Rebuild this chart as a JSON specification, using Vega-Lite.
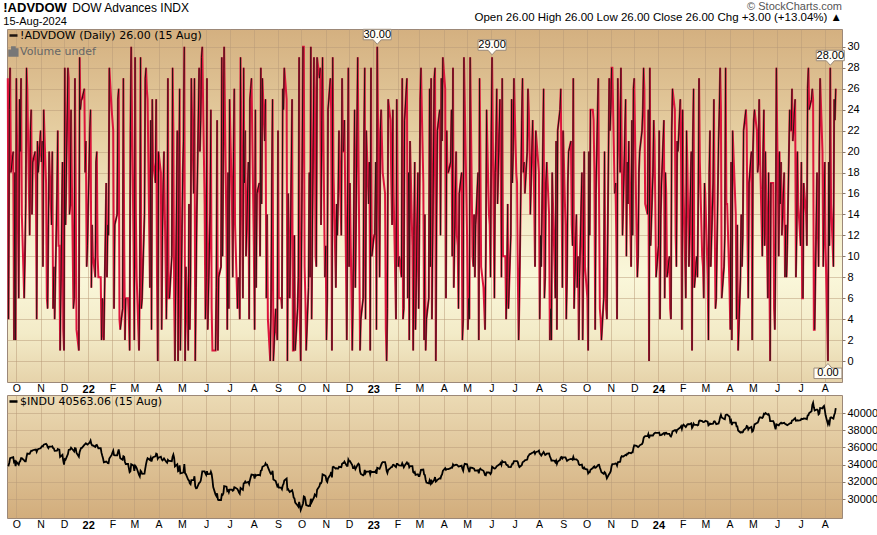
{
"$schema": "https://vega.github.io/schema/vega-lite/v6.json",
"background": "white",
"padding": {"left": 3, "top": 0, "right": 0, "bottom": 0},
"title": {"text": "!ADVDOW", "subtitle": "15-Aug-2024", "anchor": "start", "font": "Liberation Sans", "fontSize": 13, "fontWeight": "bold", "color": "#000", "subtitleFont": "Liberation Sans", "subtitleFontSize": 11, "subtitleColor": "#000", "subtitlePadding": 1, "offset": -27},
"datasets": {
"ann": [{"d":"2023-01-06","v":30,"t":"30.00","pos":"up"},{"d":"2023-06-02","v":29,"t":"29.00","pos":"up"},{"d":"2024-08-08","v":28,"t":"28.00","pos":"up"},{"d":"2024-08-05","v":0,"t":"0.00","pos":"down"}],
"daily": [
{"d":"2021-09-20","v":27,"p":33970},{"d":"2021-09-21","v":4,"p":33920},{"d":"2021-09-22","v":24,"p":34260},{"d":"2021-09-23","v":28,"p":34760},{"d":"2021-09-24","v":18,"p":34800},
{"d":"2021-09-27","v":20,"p":34870},{"d":"2021-09-28","v":2,"p":34300},{"d":"2021-09-29","v":18,"p":34390},{"d":"2021-09-30","v":2,"p":33840},{"d":"2021-10-01","v":27,"p":34330},
{"d":"2021-10-04","v":6,"p":34000},{"d":"2021-10-05","v":25,"p":34310},{"d":"2021-10-06","v":20,"p":34420},{"d":"2021-10-07","v":27,"p":34750},{"d":"2021-10-08","v":14,"p":34750},
{"d":"2021-10-11","v":6,"p":34500},{"d":"2021-10-12","v":10,"p":34380},{"d":"2021-10-13","v":15,"p":34380},{"d":"2021-10-14","v":28,"p":34910},{"d":"2021-10-15","v":26,"p":35290},
{"d":"2021-10-18","v":12,"p":35260},{"d":"2021-10-19","v":22,"p":35460},{"d":"2021-10-20","v":24,"p":35610},{"d":"2021-10-21","v":14,"p":35600},{"d":"2021-10-22","v":19,"p":35680},
{"d":"2021-10-25","v":20,"p":35740},{"d":"2021-10-26","v":17,"p":35760},{"d":"2021-10-27","v":4,"p":35490},{"d":"2021-10-28","v":21,"p":35730},{"d":"2021-10-29","v":18,"p":35820},
{"d":"2021-11-01","v":22,"p":35910},{"d":"2021-11-02","v":19,"p":36050},{"d":"2021-11-03","v":21,"p":36160},{"d":"2021-11-04","v":9,"p":36120},{"d":"2021-11-05","v":24,"p":36330},
{"d":"2021-11-08","v":17,"p":36430},{"d":"2021-11-09","v":6,"p":36320},{"d":"2021-11-10","v":5,"p":36080},{"d":"2021-11-11","v":13,"p":35920},{"d":"2021-11-12","v":20,"p":36100},
{"d":"2021-11-15","v":13,"p":36090},{"d":"2021-11-16","v":20,"p":36140},{"d":"2021-11-17","v":5,"p":35930},{"d":"2021-11-18","v":9,"p":35870},{"d":"2021-11-19","v":4,"p":35600},
{"d":"2021-11-22","v":16,"p":35620},{"d":"2021-11-23","v":22,"p":35810},{"d":"2021-11-24","v":11,"p":35750},{"d":"2021-11-25","v":11,"p":35750},{"d":"2021-11-26","v":1,"p":34900},
{"d":"2021-11-29","v":19,"p":35140},{"d":"2021-11-30","v":3,"p":34480},{"d":"2021-12-01","v":1,"p":34020},{"d":"2021-12-02","v":28,"p":34640},{"d":"2021-12-03","v":13,"p":34580},
{"d":"2021-12-06","v":28,"p":35230},{"d":"2021-12-07","v":27,"p":35720},{"d":"2021-12-08","v":14,"p":35750},{"d":"2021-12-09","v":15,"p":35750},{"d":"2021-12-10","v":24,"p":35970},
{"d":"2021-12-13","v":5,"p":35650},{"d":"2021-12-14","v":6,"p":35540},{"d":"2021-12-15","v":27,"p":35930},{"d":"2021-12-16","v":16,"p":35900},{"d":"2021-12-17","v":3,"p":35370},
{"d":"2021-12-20","v":1,"p":34930},{"d":"2021-12-21","v":29,"p":35490},{"d":"2021-12-22","v":24,"p":35750},{"d":"2021-12-23","v":25,"p":35950},{"d":"2021-12-24","v":25,"p":35950},
{"d":"2021-12-27","v":26,"p":36300},{"d":"2021-12-28","v":18,"p":36400},{"d":"2021-12-29","v":21,"p":36490},{"d":"2021-12-30","v":9,"p":36400},{"d":"2021-12-31","v":11,"p":36340},
{"d":"2022-01-03","v":22,"p":36590},{"d":"2022-01-04","v":24,"p":36800},{"d":"2022-01-05","v":7,"p":36410},{"d":"2022-01-06","v":13,"p":36240},{"d":"2022-01-07","v":10,"p":36230},
{"d":"2022-01-10","v":8,"p":36070},{"d":"2022-01-11","v":19,"p":36250},{"d":"2022-01-12","v":20,"p":36290},{"d":"2022-01-13","v":10,"p":36110},{"d":"2022-01-14","v":8,"p":35910},
{"d":"2022-01-17","v":8,"p":35910},{"d":"2022-01-18","v":2,"p":35370},{"d":"2022-01-19","v":6,"p":35030},{"d":"2022-01-20","v":3,"p":34720},{"d":"2022-01-21","v":2,"p":34270},
{"d":"2022-01-24","v":17,"p":34360},{"d":"2022-01-25","v":8,"p":34300},{"d":"2022-01-26","v":13,"p":34170},{"d":"2022-01-27","v":12,"p":34160},{"d":"2022-01-28","v":28,"p":34720},
{"d":"2022-01-31","v":24,"p":35130},{"d":"2022-02-01","v":23,"p":35410},{"d":"2022-02-02","v":22,"p":35630},{"d":"2022-02-03","v":5,"p":35110},{"d":"2022-02-04","v":13,"p":35090},
{"d":"2022-02-07","v":14,"p":35090},{"d":"2022-02-08","v":25,"p":35460},{"d":"2022-02-09","v":26,"p":35770},{"d":"2022-02-10","v":4,"p":35240},{"d":"2022-02-11","v":3,"p":34740},
{"d":"2022-02-14","v":5,"p":34570},{"d":"2022-02-15","v":27,"p":34990},{"d":"2022-02-16","v":12,"p":34930},{"d":"2022-02-17","v":2,"p":34310},{"d":"2022-02-18","v":6,"p":34080},
{"d":"2022-02-21","v":6,"p":34080},{"d":"2022-02-22","v":4,"p":33600},{"d":"2022-02-23","v":1,"p":33130},{"d":"2022-02-24","v":22,"p":33220},{"d":"2022-02-25","v":30,"p":34060},
{"d":"2022-02-28","v":11,"p":33890},{"d":"2022-03-01","v":2,"p":33290},{"d":"2022-03-02","v":29,"p":33890},{"d":"2022-03-03","v":14,"p":33790},{"d":"2022-03-04","v":8,"p":33610},
{"d":"2022-03-07","v":1,"p":32820},{"d":"2022-03-08","v":7,"p":32630},{"d":"2022-03-09","v":29,"p":33290},{"d":"2022-03-10","v":5,"p":33170},{"d":"2022-03-11","v":6,"p":32940},
{"d":"2022-03-14","v":14,"p":32950},{"d":"2022-03-15","v":27,"p":33540},{"d":"2022-03-16","v":28,"p":34060},{"d":"2022-03-17","v":26,"p":34480},{"d":"2022-03-18","v":25,"p":34750},
{"d":"2022-03-21","v":7,"p":34550},{"d":"2022-03-22","v":23,"p":34810},{"d":"2022-03-23","v":3,"p":34360},{"d":"2022-03-24","v":25,"p":34710},{"d":"2022-03-25","v":19,"p":34860},
{"d":"2022-03-28","v":17,"p":34960},{"d":"2022-03-29","v":25,"p":35290},{"d":"2022-03-30","v":8,"p":35230},{"d":"2022-03-31","v":0,"p":34680},{"d":"2022-04-01","v":20,"p":34820},
{"d":"2022-04-04","v":18,"p":34920},{"d":"2022-04-05","v":3,"p":34640},{"d":"2022-04-06","v":12,"p":34500},{"d":"2022-04-07","v":17,"p":34580},{"d":"2022-04-08","v":20,"p":34720},
{"d":"2022-04-11","v":4,"p":34310},{"d":"2022-04-12","v":9,"p":34220},{"d":"2022-04-13","v":27,"p":34560},{"d":"2022-04-14","v":6,"p":34450},{"d":"2022-04-15","v":6,"p":34450},
{"d":"2022-04-18","v":10,"p":34410},{"d":"2022-04-19","v":28,"p":34910},{"d":"2022-04-20","v":22,"p":35160},{"d":"2022-04-21","v":6,"p":34790},{"d":"2022-04-22","v":0,"p":33810},
{"d":"2022-04-25","v":22,"p":34050},{"d":"2022-04-26","v":0,"p":33240},{"d":"2022-04-27","v":15,"p":33300},{"d":"2022-04-28","v":26,"p":33920},{"d":"2022-04-29","v":1,"p":32980},
{"d":"2022-05-02","v":18,"p":33060},{"d":"2022-05-03","v":21,"p":33130},{"d":"2022-05-04","v":30,"p":34060},{"d":"2022-05-05","v":0,"p":32990},{"d":"2022-05-06","v":9,"p":32900},
{"d":"2022-05-09","v":1,"p":32250},{"d":"2022-05-10","v":15,"p":32160},{"d":"2022-05-11","v":3,"p":31830},{"d":"2022-05-12","v":8,"p":31730},{"d":"2022-05-13","v":27,"p":32200},
{"d":"2022-05-16","v":16,"p":32220},{"d":"2022-05-17","v":27,"p":32650},{"d":"2022-05-18","v":0,"p":31490},{"d":"2022-05-19","v":7,"p":31250},{"d":"2022-05-20","v":14,"p":31260},
{"d":"2022-05-23","v":28,"p":31880},{"d":"2022-05-24","v":20,"p":31930},{"d":"2022-05-25","v":23,"p":32120},{"d":"2022-05-26","v":29,"p":32640},{"d":"2022-05-27","v":30,"p":33210},
{"d":"2022-05-30","v":15,"p":33210},{"d":"2022-05-31","v":4,"p":32990},{"d":"2022-06-01","v":8,"p":32810},{"d":"2022-06-02","v":27,"p":33250},{"d":"2022-06-03","v":3,"p":32900},
{"d":"2022-06-06","v":14,"p":32920},{"d":"2022-06-07","v":24,"p":33180},{"d":"2022-06-08","v":5,"p":32910},{"d":"2022-06-09","v":1,"p":32270},{"d":"2022-06-10","v":1,"p":31390},
{"d":"2022-06-13","v":1,"p":30520},{"d":"2022-06-14","v":7,"p":30360},{"d":"2022-06-15","v":23,"p":30670},{"d":"2022-06-16","v":1,"p":29930},{"d":"2022-06-17","v":8,"p":29890},
{"d":"2022-06-20","v":9,"p":29890},{"d":"2022-06-21","v":29,"p":30530},{"d":"2022-06-22","v":10,"p":30480},{"d":"2022-06-23","v":21,"p":30680},{"d":"2022-06-24","v":30,"p":31500},
{"d":"2022-06-27","v":12,"p":31440},{"d":"2022-06-28","v":3,"p":30950},{"d":"2022-06-29","v":18,"p":31030},{"d":"2022-06-30","v":5,"p":30780},{"d":"2022-07-01","v":25,"p":31100},
{"d":"2022-07-04","v":15,"p":31100},{"d":"2022-07-05","v":8,"p":30970},{"d":"2022-07-06","v":20,"p":31040},{"d":"2022-07-07","v":26,"p":31380},{"d":"2022-07-08","v":13,"p":31340},
{"d":"2022-07-11","v":5,"p":31170},{"d":"2022-07-12","v":8,"p":30980},{"d":"2022-07-13","v":7,"p":30770},{"d":"2022-07-14","v":4,"p":30630},{"d":"2022-07-15","v":29,"p":31290},
{"d":"2022-07-18","v":6,"p":31070},{"d":"2022-07-19","v":28,"p":31830},{"d":"2022-07-20","v":17,"p":31870},{"d":"2022-07-21","v":22,"p":32040},{"d":"2022-07-22","v":10,"p":31900},
{"d":"2022-07-25","v":19,"p":31990},{"d":"2022-07-26","v":4,"p":31760},{"d":"2022-07-27","v":25,"p":32200},{"d":"2022-07-28","v":26,"p":32530},{"d":"2022-07-29","v":27,"p":32850},
{"d":"2022-08-01","v":11,"p":32800},{"d":"2022-08-02","v":3,"p":32400},{"d":"2022-08-03","v":24,"p":32810},{"d":"2022-08-04","v":7,"p":32730},{"d":"2022-08-05","v":16,"p":32800},
{"d":"2022-08-08","v":17,"p":32830},{"d":"2022-08-09","v":10,"p":32770},{"d":"2022-08-10","v":28,"p":33310},{"d":"2022-08-11","v":15,"p":33340},{"d":"2022-08-12","v":27,"p":33760},
{"d":"2022-08-15","v":21,"p":33910},{"d":"2022-08-16","v":25,"p":34150},{"d":"2022-08-17","v":6,"p":33980},{"d":"2022-08-18","v":14,"p":33990},{"d":"2022-08-19","v":4,"p":33710},
{"d":"2022-08-22","v":0,"p":33060},{"d":"2022-08-23","v":5,"p":32910},{"d":"2022-08-24","v":17,"p":32970},{"d":"2022-08-25","v":25,"p":33290},{"d":"2022-08-26","v":0,"p":32280},
{"d":"2022-08-29","v":5,"p":32100},{"d":"2022-08-30","v":3,"p":31790},{"d":"2022-08-31","v":2,"p":31510},{"d":"2022-09-01","v":22,"p":31660},{"d":"2022-09-02","v":6,"p":31320},
{"d":"2022-09-05","v":6,"p":31320},{"d":"2022-09-06","v":5,"p":31150},{"d":"2022-09-07","v":26,"p":31580},{"d":"2022-09-08","v":24,"p":31770},{"d":"2022-09-09","v":28,"p":32150},
{"d":"2022-09-12","v":25,"p":32380},{"d":"2022-09-13","v":0,"p":31100},{"d":"2022-09-14","v":16,"p":31140},{"d":"2022-09-15","v":8,"p":30960},{"d":"2022-09-16","v":6,"p":30820},
{"d":"2022-09-19","v":25,"p":31020},{"d":"2022-09-20","v":1,"p":30710},{"d":"2022-09-21","v":1,"p":30180},{"d":"2022-09-22","v":12,"p":30080},{"d":"2022-09-23","v":1,"p":29590},
{"d":"2022-09-26","v":5,"p":29260},{"d":"2022-09-27","v":8,"p":29130},{"d":"2022-09-28","v":29,"p":29680},{"d":"2022-09-29","v":3,"p":29230},{"d":"2022-09-30","v":0,"p":28730},
{"d":"2022-10-03","v":30,"p":29490},{"d":"2022-10-04","v":30,"p":30320},{"d":"2022-10-05","v":9,"p":30270},{"d":"2022-10-06","v":6,"p":29930},{"d":"2022-10-07","v":1,"p":29300},
{"d":"2022-10-10","v":7,"p":29200},{"d":"2022-10-11","v":18,"p":29240},{"d":"2022-10-12","v":8,"p":29210},{"d":"2022-10-13","v":30,"p":30040},{"d":"2022-10-14","v":4,"p":29630},
{"d":"2022-10-17","v":29,"p":30190},{"d":"2022-10-18","v":26,"p":30520},{"d":"2022-10-19","v":10,"p":30420},{"d":"2022-10-20","v":9,"p":30330},{"d":"2022-10-21","v":29,"p":31080},
{"d":"2022-10-24","v":27,"p":31500},{"d":"2022-10-25","v":28,"p":31840},{"d":"2022-10-26","v":13,"p":31840},{"d":"2022-10-27","v":23,"p":32030},{"d":"2022-10-28","v":29,"p":32860},
{"d":"2022-10-31","v":8,"p":32730},{"d":"2022-11-01","v":11,"p":32650},{"d":"2022-11-02","v":2,"p":32150},{"d":"2022-11-03","v":6,"p":32000},{"d":"2022-11-04","v":24,"p":32400},
{"d":"2022-11-07","v":27,"p":32830},{"d":"2022-11-08","v":24,"p":33160},{"d":"2022-11-09","v":1,"p":32510},{"d":"2022-11-10","v":29,"p":33720},{"d":"2022-11-11","v":18,"p":33750},
{"d":"2022-11-14","v":7,"p":33540},{"d":"2022-11-15","v":15,"p":33590},{"d":"2022-11-16","v":12,"p":33550},{"d":"2022-11-17","v":16,"p":33550},{"d":"2022-11-18","v":22,"p":33750},
{"d":"2022-11-21","v":12,"p":33700},{"d":"2022-11-22","v":27,"p":34100},{"d":"2022-11-23","v":20,"p":34190},{"d":"2022-11-24","v":20,"p":34190},{"d":"2022-11-25","v":23,"p":34350},
{"d":"2022-11-28","v":2,"p":33850},{"d":"2022-11-29","v":15,"p":33850},{"d":"2022-11-30","v":28,"p":34590},{"d":"2022-12-01","v":9,"p":34400},{"d":"2022-12-02","v":17,"p":34430},
{"d":"2022-12-05","v":1,"p":33950},{"d":"2022-12-06","v":6,"p":33600},{"d":"2022-12-07","v":14,"p":33600},{"d":"2022-12-08","v":24,"p":33780},{"d":"2022-12-09","v":7,"p":33480},
{"d":"2022-12-12","v":29,"p":34010},{"d":"2022-12-13","v":20,"p":34110},{"d":"2022-12-14","v":11,"p":33970},{"d":"2022-12-15","v":1,"p":33200},{"d":"2022-12-16","v":4,"p":32920},
{"d":"2022-12-19","v":6,"p":32760},{"d":"2022-12-20","v":21,"p":32850},{"d":"2022-12-21","v":28,"p":33380},{"d":"2022-12-22","v":4,"p":33030},{"d":"2022-12-23","v":22,"p":33200},
{"d":"2022-12-26","v":15,"p":33200},{"d":"2022-12-27","v":19,"p":33240},{"d":"2022-12-28","v":1,"p":32880},{"d":"2022-12-29","v":28,"p":33220},{"d":"2022-12-30","v":10,"p":33150},
{"d":"2023-01-02","v":12,"p":33150},{"d":"2023-01-03","v":12,"p":33140},{"d":"2023-01-04","v":19,"p":33270},{"d":"2023-01-05","v":3,"p":32930},{"d":"2023-01-06","v":30,"p":33630},
{"d":"2023-01-09","v":8,"p":33520},{"d":"2023-01-10","v":22,"p":33700},{"d":"2023-01-11","v":24,"p":33970},{"d":"2023-01-12","v":21,"p":34190},{"d":"2023-01-13","v":18,"p":34300},
{"d":"2023-01-16","v":16,"p":34300},{"d":"2023-01-17","v":3,"p":33910},{"d":"2023-01-18","v":0,"p":33300},{"d":"2023-01-19","v":5,"p":33040},{"d":"2023-01-20","v":25,"p":33380},
{"d":"2023-01-23","v":23,"p":33630},{"d":"2023-01-24","v":17,"p":33730},{"d":"2023-01-25","v":13,"p":33740},{"d":"2023-01-26","v":24,"p":33950},{"d":"2023-01-27","v":16,"p":33980},
{"d":"2023-01-30","v":4,"p":33720},{"d":"2023-01-31","v":25,"p":34090},{"d":"2023-02-01","v":16,"p":34090},{"d":"2023-02-02","v":9,"p":33990},{"d":"2023-02-03","v":10,"p":33930},
{"d":"2023-02-06","v":8,"p":33890},{"d":"2023-02-07","v":27,"p":34160},{"d":"2023-02-08","v":4,"p":33950},{"d":"2023-02-09","v":5,"p":33700},{"d":"2023-02-10","v":23,"p":33870},
{"d":"2023-02-13","v":27,"p":34250},{"d":"2023-02-14","v":6,"p":34090},{"d":"2023-02-15","v":18,"p":34130},{"d":"2023-02-16","v":2,"p":33700},{"d":"2023-02-17","v":21,"p":33830},
{"d":"2023-02-20","v":11,"p":33830},{"d":"2023-02-21","v":1,"p":33130},{"d":"2023-02-22","v":12,"p":33050},{"d":"2023-02-23","v":19,"p":33150},{"d":"2023-02-24","v":3,"p":32820},
{"d":"2023-02-27","v":18,"p":32890},{"d":"2023-02-28","v":5,"p":32660},{"d":"2023-03-01","v":13,"p":32660},{"d":"2023-03-02","v":25,"p":33000},{"d":"2023-03-03","v":28,"p":33390},
{"d":"2023-03-06","v":17,"p":33430},{"d":"2023-03-07","v":2,"p":32860},{"d":"2023-03-08","v":14,"p":32800},{"d":"2023-03-09","v":1,"p":32250},{"d":"2023-03-10","v":4,"p":31910},
{"d":"2023-03-13","v":6,"p":31820},{"d":"2023-03-14","v":26,"p":32160},{"d":"2023-03-15","v":9,"p":31870},{"d":"2023-03-16","v":27,"p":32250},{"d":"2023-03-17","v":4,"p":31860},
{"d":"2023-03-20","v":27,"p":32240},{"d":"2023-03-21","v":28,"p":32560},{"d":"2023-03-22","v":0,"p":32030},{"d":"2023-03-23","v":14,"p":32110},{"d":"2023-03-24","v":22,"p":32240},
{"d":"2023-03-27","v":24,"p":32430},{"d":"2023-03-28","v":12,"p":32390},{"d":"2023-03-29","v":27,"p":32720},{"d":"2023-03-30","v":21,"p":32860},{"d":"2023-03-31","v":29,"p":33270},
{"d":"2023-04-03","v":26,"p":33600},{"d":"2023-04-04","v":6,"p":33400},{"d":"2023-04-05","v":22,"p":33480},{"d":"2023-04-06","v":18,"p":33490},{"d":"2023-04-07","v":18,"p":33490},
{"d":"2023-04-10","v":19,"p":33590},{"d":"2023-04-11","v":24,"p":33680},{"d":"2023-04-12","v":10,"p":33650},{"d":"2023-04-13","v":28,"p":34030},{"d":"2023-04-14","v":7,"p":33890},
{"d":"2023-04-17","v":20,"p":33990},{"d":"2023-04-18","v":12,"p":33980},{"d":"2023-04-19","v":11,"p":33900},{"d":"2023-04-20","v":5,"p":33790},{"d":"2023-04-21","v":16,"p":33810},
{"d":"2023-04-24","v":18,"p":33880},{"d":"2023-04-25","v":2,"p":33530},{"d":"2023-04-26","v":4,"p":33300},{"d":"2023-04-27","v":29,"p":33830},{"d":"2023-04-28","v":25,"p":34100},
{"d":"2023-05-01","v":12,"p":34050},{"d":"2023-05-02","v":3,"p":33680},{"d":"2023-05-03","v":6,"p":33410},{"d":"2023-05-04","v":4,"p":33130},{"d":"2023-05-05","v":29,"p":33670},
{"d":"2023-05-08","v":10,"p":33620},{"d":"2023-05-09","v":9,"p":33560},{"d":"2023-05-10","v":14,"p":33530},{"d":"2023-05-11","v":8,"p":33310},{"d":"2023-05-12","v":13,"p":33300},
{"d":"2023-05-15","v":18,"p":33350},{"d":"2023-05-16","v":2,"p":33010},{"d":"2023-05-17","v":27,"p":33420},{"d":"2023-05-18","v":20,"p":33540},{"d":"2023-05-19","v":9,"p":33430},
{"d":"2023-05-22","v":7,"p":33290},{"d":"2023-05-23","v":5,"p":33060},{"d":"2023-05-24","v":3,"p":32800},{"d":"2023-05-25","v":10,"p":32760},{"d":"2023-05-26","v":24,"p":33090},
{"d":"2023-05-29","v":14,"p":33090},{"d":"2023-05-30","v":13,"p":33040},{"d":"2023-05-31","v":8,"p":32910},{"d":"2023-06-01","v":22,"p":33060},{"d":"2023-06-02","v":29,"p":33760},
{"d":"2023-06-05","v":6,"p":33560},{"d":"2023-06-06","v":18,"p":33570},{"d":"2023-06-07","v":21,"p":33670},{"d":"2023-06-08","v":26,"p":33830},{"d":"2023-06-09","v":15,"p":33880},
{"d":"2023-06-12","v":25,"p":34070},{"d":"2023-06-13","v":21,"p":34210},{"d":"2023-06-14","v":8,"p":33980},{"d":"2023-06-15","v":27,"p":34410},{"d":"2023-06-16","v":10,"p":34300},
{"d":"2023-06-19","v":10,"p":34300},{"d":"2023-06-20","v":4,"p":34050},{"d":"2023-06-21","v":8,"p":33950},{"d":"2023-06-22","v":15,"p":33950},{"d":"2023-06-23","v":5,"p":33730},
{"d":"2023-06-26","v":12,"p":33710},{"d":"2023-06-27","v":25,"p":33930},{"d":"2023-06-28","v":17,"p":34120},{"d":"2023-06-29","v":20,"p":34120},{"d":"2023-06-30","v":27,"p":34410},
{"d":"2023-07-03","v":18,"p":34420},{"d":"2023-07-04","v":17,"p":34420},{"d":"2023-07-05","v":8,"p":34290},{"d":"2023-07-06","v":2,"p":33920},{"d":"2023-07-07","v":6,"p":33730},
{"d":"2023-07-10","v":23,"p":33940},{"d":"2023-07-11","v":27,"p":34260},{"d":"2023-07-12","v":18,"p":34350},{"d":"2023-07-13","v":19,"p":34400},{"d":"2023-07-14","v":16,"p":34510},
{"d":"2023-07-17","v":20,"p":34590},{"d":"2023-07-18","v":26,"p":34950},{"d":"2023-07-19","v":24,"p":35060},{"d":"2023-07-20","v":21,"p":35230},{"d":"2023-07-21","v":14,"p":35230},
{"d":"2023-07-24","v":23,"p":35410},{"d":"2023-07-25","v":20,"p":35440},{"d":"2023-07-26","v":15,"p":35520},{"d":"2023-07-27","v":9,"p":35280},{"d":"2023-07-28","v":22,"p":35460},
{"d":"2023-07-31","v":19,"p":35560},{"d":"2023-08-01","v":18,"p":35630},{"d":"2023-08-02","v":4,"p":35280},{"d":"2023-08-03","v":12,"p":35220},{"d":"2023-08-04","v":9,"p":35070},
{"d":"2023-08-07","v":26,"p":35470},{"d":"2023-08-08","v":6,"p":35310},{"d":"2023-08-09","v":8,"p":35120},{"d":"2023-08-10","v":17,"p":35180},{"d":"2023-08-11","v":19,"p":35280},
{"d":"2023-08-14","v":14,"p":35310},{"d":"2023-08-15","v":2,"p":34950},{"d":"2023-08-16","v":5,"p":34770},{"d":"2023-08-17","v":2,"p":34470},{"d":"2023-08-18","v":18,"p":34500},
{"d":"2023-08-21","v":9,"p":34460},{"d":"2023-08-22","v":6,"p":34290},{"d":"2023-08-23","v":21,"p":34470},{"d":"2023-08-24","v":3,"p":34100},{"d":"2023-08-25","v":22,"p":34350},
{"d":"2023-08-28","v":24,"p":34560},{"d":"2023-08-29","v":26,"p":34850},{"d":"2023-08-30","v":16,"p":34890},{"d":"2023-08-31","v":7,"p":34720},{"d":"2023-09-01","v":22,"p":34840},
{"d":"2023-09-04","v":13,"p":34840},{"d":"2023-09-05","v":4,"p":34640},{"d":"2023-09-06","v":8,"p":34440},{"d":"2023-09-07","v":17,"p":34500},{"d":"2023-09-08","v":20,"p":34580},
{"d":"2023-09-11","v":21,"p":34660},{"d":"2023-09-12","v":13,"p":34650},{"d":"2023-09-13","v":11,"p":34580},{"d":"2023-09-14","v":27,"p":34910},{"d":"2023-09-15","v":5,"p":34620},
{"d":"2023-09-18","v":14,"p":34620},{"d":"2023-09-19","v":7,"p":34520},{"d":"2023-09-20","v":10,"p":34440},{"d":"2023-09-21","v":2,"p":34070},{"d":"2023-09-22","v":8,"p":33960},
{"d":"2023-09-25","v":18,"p":34010},{"d":"2023-09-26","v":2,"p":33620},{"d":"2023-09-27","v":10,"p":33550},{"d":"2023-09-28","v":20,"p":33670},{"d":"2023-09-29","v":9,"p":33510},
{"d":"2023-10-02","v":6,"p":33430},{"d":"2023-10-03","v":1,"p":33000},{"d":"2023-10-04","v":20,"p":33130},{"d":"2023-10-05","v":12,"p":33120},{"d":"2023-10-06","v":24,"p":33410},
{"d":"2023-10-09","v":24,"p":33600},{"d":"2023-10-10","v":23,"p":33740},{"d":"2023-10-11","v":18,"p":33800},{"d":"2023-10-12","v":3,"p":33630},{"d":"2023-10-13","v":16,"p":33670},
{"d":"2023-10-16","v":27,"p":33980},{"d":"2023-10-17","v":15,"p":33990},{"d":"2023-10-18","v":5,"p":33670},{"d":"2023-10-19","v":4,"p":33410},{"d":"2023-10-20","v":2,"p":33130},
{"d":"2023-10-23","v":6,"p":32940},{"d":"2023-10-24","v":20,"p":33140},{"d":"2023-10-25","v":9,"p":33040},{"d":"2023-10-26","v":5,"p":32780},{"d":"2023-10-27","v":4,"p":32420},
{"d":"2023-10-30","v":27,"p":32930},{"d":"2023-10-31","v":22,"p":33050},{"d":"2023-11-01","v":24,"p":33270},{"d":"2023-11-02","v":28,"p":33840},{"d":"2023-11-03","v":28,"p":34060},
{"d":"2023-11-06","v":16,"p":34100},{"d":"2023-11-07","v":17,"p":34150},{"d":"2023-11-08","v":12,"p":34110},{"d":"2023-11-09","v":4,"p":33890},{"d":"2023-11-10","v":27,"p":34280},
{"d":"2023-11-13","v":18,"p":34340},{"d":"2023-11-14","v":28,"p":34830},{"d":"2023-11-15","v":20,"p":34990},{"d":"2023-11-16","v":12,"p":34950},{"d":"2023-11-17","v":15,"p":34950},
{"d":"2023-11-20","v":25,"p":35150},{"d":"2023-11-21","v":10,"p":35090},{"d":"2023-11-22","v":19,"p":35270},{"d":"2023-11-23","v":15,"p":35270},{"d":"2023-11-24","v":21,"p":35390},
{"d":"2023-11-27","v":9,"p":35330},{"d":"2023-11-28","v":23,"p":35420},{"d":"2023-11-29","v":12,"p":35430},{"d":"2023-11-30","v":26,"p":35950},{"d":"2023-12-01","v":27,"p":36250},
{"d":"2023-12-04","v":12,"p":36200},{"d":"2023-12-05","v":8,"p":36120},{"d":"2023-12-06","v":10,"p":36050},{"d":"2023-12-07","v":18,"p":36120},{"d":"2023-12-08","v":20,"p":36250},
{"d":"2023-12-11","v":22,"p":36400},{"d":"2023-12-12","v":24,"p":36580},{"d":"2023-12-13","v":28,"p":37090},{"d":"2023-12-14","v":26,"p":37250},{"d":"2023-12-15","v":15,"p":37310},
{"d":"2023-12-18","v":14,"p":37310},{"d":"2023-12-19","v":24,"p":37560},{"d":"2023-12-20","v":0,"p":37080},{"d":"2023-12-21","v":28,"p":37400},{"d":"2023-12-22","v":11,"p":37390},
{"d":"2023-12-25","v":18,"p":37390},{"d":"2023-12-26","v":23,"p":37550},{"d":"2023-12-27","v":21,"p":37660},{"d":"2023-12-28","v":15,"p":37710},{"d":"2023-12-29","v":8,"p":37690},
{"d":"2024-01-01","v":11,"p":37690},{"d":"2024-01-02","v":22,"p":37720},{"d":"2024-01-03","v":4,"p":37430},{"d":"2024-01-04","v":14,"p":37440},{"d":"2024-01-05","v":17,"p":37470},
{"d":"2024-01-08","v":23,"p":37680},{"d":"2024-01-09","v":6,"p":37530},{"d":"2024-01-10","v":18,"p":37700},{"d":"2024-01-11","v":16,"p":37710},{"d":"2024-01-12","v":8,"p":37590},
{"d":"2024-01-15","v":10,"p":37590},{"d":"2024-01-16","v":5,"p":37360},{"d":"2024-01-17","v":4,"p":37270},{"d":"2024-01-18","v":22,"p":37470},{"d":"2024-01-19","v":26,"p":37860},
{"d":"2024-01-22","v":24,"p":38000},{"d":"2024-01-23","v":12,"p":38000},{"d":"2024-01-24","v":9,"p":37810},{"d":"2024-01-25","v":21,"p":38050},{"d":"2024-01-26","v":20,"p":38110},
{"d":"2024-01-29","v":25,"p":38330},{"d":"2024-01-30","v":19,"p":38470},{"d":"2024-01-31","v":3,"p":38150},{"d":"2024-02-01","v":24,"p":38520},{"d":"2024-02-02","v":17,"p":38650},
{"d":"2024-02-05","v":6,"p":38380},{"d":"2024-02-06","v":22,"p":38520},{"d":"2024-02-07","v":19,"p":38680},{"d":"2024-02-08","v":14,"p":38730},{"d":"2024-02-09","v":9,"p":38670},
{"d":"2024-02-12","v":20,"p":38800},{"d":"2024-02-13","v":1,"p":38270},{"d":"2024-02-14","v":21,"p":38420},{"d":"2024-02-15","v":26,"p":38770},{"d":"2024-02-16","v":7,"p":38630},
{"d":"2024-02-19","v":10,"p":38630},{"d":"2024-02-20","v":8,"p":38560},{"d":"2024-02-21","v":16,"p":38610},{"d":"2024-02-22","v":27,"p":39070},{"d":"2024-02-23","v":19,"p":39130},
{"d":"2024-02-26","v":10,"p":39070},{"d":"2024-02-27","v":9,"p":38970},{"d":"2024-02-28","v":6,"p":38950},{"d":"2024-02-29","v":17,"p":38990},{"d":"2024-03-01","v":16,"p":39090},
{"d":"2024-03-04","v":8,"p":38990},{"d":"2024-03-05","v":2,"p":38580},{"d":"2024-03-06","v":18,"p":38660},{"d":"2024-03-07","v":22,"p":38790},{"d":"2024-03-08","v":9,"p":38720},
{"d":"2024-03-11","v":17,"p":38770},{"d":"2024-03-12","v":25,"p":39010},{"d":"2024-03-13","v":14,"p":39040},{"d":"2024-03-14","v":5,"p":38910},{"d":"2024-03-15","v":6,"p":38710},
{"d":"2024-03-18","v":21,"p":38790},{"d":"2024-03-19","v":24,"p":39110},{"d":"2024-03-20","v":28,"p":39510},{"d":"2024-03-21","v":24,"p":39780},{"d":"2024-03-22","v":6,"p":39480},
{"d":"2024-03-25","v":9,"p":39310},{"d":"2024-03-26","v":12,"p":39280},{"d":"2024-03-27","v":28,"p":39760},{"d":"2024-03-28","v":15,"p":39810},{"d":"2024-03-29","v":15,"p":39810},
{"d":"2024-04-01","v":7,"p":39570},{"d":"2024-04-02","v":3,"p":38990},{"d":"2024-04-03","v":19,"p":39130},{"d":"2024-04-04","v":2,"p":38600},{"d":"2024-04-05","v":22,"p":38900},
{"d":"2024-04-08","v":16,"p":38890},{"d":"2024-04-09","v":14,"p":38880},{"d":"2024-04-10","v":4,"p":38460},{"d":"2024-04-11","v":13,"p":38460},{"d":"2024-04-12","v":1,"p":37980},
{"d":"2024-04-15","v":8,"p":37740},{"d":"2024-04-16","v":14,"p":37800},{"d":"2024-04-17","v":9,"p":37750},{"d":"2024-04-18","v":12,"p":37780},{"d":"2024-04-19","v":22,"p":37990},
{"d":"2024-04-22","v":24,"p":38240},{"d":"2024-04-23","v":22,"p":38500},{"d":"2024-04-24","v":12,"p":38460},{"d":"2024-04-25","v":6,"p":38090},{"d":"2024-04-26","v":17,"p":38240},
{"d":"2024-04-29","v":20,"p":38390},{"d":"2024-04-30","v":2,"p":37820},{"d":"2024-05-01","v":20,"p":37900},{"d":"2024-05-02","v":23,"p":38230},{"d":"2024-05-03","v":24,"p":38680},
{"d":"2024-05-06","v":22,"p":38850},{"d":"2024-05-07","v":18,"p":38880},{"d":"2024-05-08","v":19,"p":39060},{"d":"2024-05-09","v":25,"p":39390},{"d":"2024-05-10","v":20,"p":39510},
{"d":"2024-05-13","v":10,"p":39430},{"d":"2024-05-14","v":20,"p":39560},{"d":"2024-05-15","v":24,"p":39910},{"d":"2024-05-16","v":11,"p":39870},{"d":"2024-05-17","v":20,"p":40000},
{"d":"2024-05-20","v":6,"p":39810},{"d":"2024-05-21","v":18,"p":39870},{"d":"2024-05-22","v":9,"p":39670},{"d":"2024-05-23","v":0,"p":39070},{"d":"2024-05-24","v":17,"p":39070},
{"d":"2024-05-27","v":17,"p":39070},{"d":"2024-05-28","v":5,"p":38850},{"d":"2024-05-29","v":3,"p":38440},{"d":"2024-05-30","v":10,"p":38110},{"d":"2024-05-31","v":28,"p":38690},
{"d":"2024-06-03","v":10,"p":38570},{"d":"2024-06-04","v":20,"p":38710},{"d":"2024-06-05","v":15,"p":38810},{"d":"2024-06-06","v":19,"p":38890},{"d":"2024-06-07","v":12,"p":38800},
{"d":"2024-06-10","v":18,"p":38870},{"d":"2024-06-11","v":8,"p":38750},{"d":"2024-06-12","v":13,"p":38710},{"d":"2024-06-13","v":8,"p":38650},{"d":"2024-06-14","v":11,"p":38590},
{"d":"2024-06-17","v":24,"p":38780},{"d":"2024-06-18","v":22,"p":38830},{"d":"2024-06-19","v":22,"p":38830},{"d":"2024-06-20","v":26,"p":39130},{"d":"2024-06-21","v":21,"p":39150},
{"d":"2024-06-24","v":25,"p":39410},{"d":"2024-06-25","v":8,"p":39110},{"d":"2024-06-26","v":12,"p":39130},{"d":"2024-06-27","v":20,"p":39160},{"d":"2024-06-28","v":15,"p":39120},
{"d":"2024-07-01","v":11,"p":39170},{"d":"2024-07-02","v":19,"p":39330},{"d":"2024-07-03","v":6,"p":39310},{"d":"2024-07-04","v":6,"p":39310},{"d":"2024-07-05","v":17,"p":39380},
{"d":"2024-07-08","v":14,"p":39340},{"d":"2024-07-09","v":11,"p":39290},{"d":"2024-07-10","v":26,"p":39720},{"d":"2024-07-11","v":28,"p":39750},{"d":"2024-07-12","v":24,"p":40000},
{"d":"2024-07-15","v":25,"p":40210},{"d":"2024-07-16","v":26,"p":40950},{"d":"2024-07-17","v":25,"p":41200},{"d":"2024-07-18","v":3,"p":40670},{"d":"2024-07-19","v":3,"p":40290},
{"d":"2024-07-22","v":18,"p":40420},{"d":"2024-07-23","v":13,"p":40360},{"d":"2024-07-24","v":9,"p":39850},{"d":"2024-07-25","v":20,"p":39940},{"d":"2024-07-26","v":27,"p":40590},
{"d":"2024-07-29","v":20,"p":40540},{"d":"2024-07-30","v":9,"p":40740},{"d":"2024-07-31","v":14,"p":40840},{"d":"2024-08-01","v":19,"p":40350},{"d":"2024-08-02","v":11,"p":39740},
{"d":"2024-08-05","v":0,"p":38700},{"d":"2024-08-06","v":19,"p":38990},{"d":"2024-08-07","v":11,"p":38760},{"d":"2024-08-08","v":28,"p":39450},{"d":"2024-08-09","v":15,"p":39500},
{"d":"2024-08-12","v":9,"p":39360},{"d":"2024-08-13","v":25,"p":39770},{"d":"2024-08-14","v":23,"p":40010},{"d":"2024-08-15","v":26,"p":40563}
]
},
"vconcat": [
{
"title": {"text": "DOW Advances  INDX", "anchor": "start", "font": "Liberation Sans", "fontSize": 12, "fontWeight": "normal", "color": "#000", "offset": -15, "dx": 69},
"spacing": -1,
"resolve": {"scale": {"color": "independent"}, "legend": {"color": "independent"}},
"vconcat": [
{
"width": 835, "height": 353,
"title": {"text": "© StockCharts.com", "subtitle": "Open 26.00  High 26.00  Low 26.00  Close 26.00  Chg +3.00 (+13.04%) ▲", "anchor": "end", "frame": "group", "font": "Liberation Sans", "fontSize": 11, "fontWeight": "normal", "color": "#555", "subtitleFont": "Liberation Sans", "subtitleFontSize": 11.5, "subtitleColor": "#000", "subtitlePadding": 0, "offset": 4},
"view": {"stroke": "#9c8878", "strokeWidth": 1, "fill": {"gradient": "linear", "x1": 0, "y1": 0, "x2": 0, "y2": 1, "stops": [{"offset": 0, "color": "#d4b080"}, {"offset": 0.3, "color": "#e6cfa2"}, {"offset": 0.55, "color": "#f5eecb"}, {"offset": 0.7, "color": "#faf7da"}, {"offset": 0.86, "color": "#f3ebc8"}, {"offset": 1, "color": "#e6d3aa"}]}},
"encoding": {
"x": {"field": "d", "type": "temporal", "scale": {"type": "utc", "domain": [{"year": 2021, "month": 9, "date": 19, "utc": true}, {"year": 2024, "month": 8, "date": 23, "utc": true}]}, "axis": {"title": null, "tickCount": {"interval": "month", "step": 1}, "labelExpr": "utcmonth(datum.value)==0 ? utcFormat(datum.value,'%y') : slice(utcFormat(datum.value,'%b'),0,1)", "labelFontWeight": {"condition": {"test": "utcmonth(datum.value)==0", "value": "bold"}, "value": "normal"}, "labelFontSize": {"condition": {"test": "utcmonth(datum.value)==0", "value": 11}, "value": 10.5}, "labelFont": "Liberation Sans", "labelColor": "#000", "labelOverlap": false, "labelFlush": false, "labelBound": false, "ticks": false, "domain": false, "labelPadding": 1, "grid": true, "gridColor": "#b89a78", "gridOpacity": 0.5}},
"y": {"field": "v", "type": "quantitative", "scale": {"domain": [-2, 31.7], "nice": false, "zero": false}, "axis": {"title": null, "orient": "right", "values": [0,2,4,6,8,10,12,14,16,18,20,22,24,26,28,30], "grid": true, "gridColor": "#b89a78", "gridOpacity": 0.5, "tickSize": 3, "tickColor": "#8a7a6a", "labelPadding": 2, "labelFont": "Liberation Sans", "labelFontSize": 11, "labelColor": "#000", "domain": false}}
},
"layer": [
{"data": {"name": "daily"}, "mark": {"type": "line", "strokeWidth": 2, "color": "#dc143c", "interpolate": "linear"}},
{"data": {"name": "daily"},
 "transform": [{"window": [{"op": "lag", "field": "v", "as": "pv"}, {"op": "lag", "field": "d", "as": "pd"}], "sort": [{"field": "d", "order": "ascending"}]}, {"filter": "datum.pv != null && datum.v > datum.pv"}],
 "mark": {"type": "rule", "strokeWidth": 1},
 "encoding": {"x2": {"field": "pd"}, "y2": {"field": "pv"},
  "color": {"datum": "!ADVDOW (Daily) 26.00 (15 Aug)", "scale": {"domain": ["!ADVDOW (Daily) 26.00 (15 Aug)", "Volume undef"], "range": ["#1e1410", "#777777"]},
  "legend": {"title": null, "orient": "top-left", "offset": 1, "padding": 0, "rowPadding": 1, "symbolType": "stroke", "symbolSize": 64, "symbolStrokeWidth": 2.5, "symbolOpacity": 1, "labelFont": "DejaVu Sans", "labelFontSize": 11, "labelOffset": 1, "labelLimit": 0,
   "encode": {"labels": {"update": {"fill": {"signal": "datum.value === 'Volume undef' ? '#666666' : '#000000'"}}}, "symbols": {"update": {"shape": {"signal": "datum.value === 'Volume undef' ? 'M-1,1L-1,-0.2L-0.45,-0.2L-0.45,1ZM-0.3,1L-0.3,-1L0.25,-1L0.25,1ZM0.4,1L0.4,-0.5L0.95,-0.5L0.95,1Z' : 'stroke'"}, "fill": {"signal": "datum.value === 'Volume undef' ? '#777777' : 'transparent'"}}}}}}}},
{"data": {"name": "ann"}, "transform": [{"filter": "datum.pos === 'up'"}], "layer": [
 {"mark": {"type": "point", "shape": "M-1.4,-1.75L1.4,-1.75L1.4,-0.7L0.4,-0.7L0,-0.25L-0.4,-0.7L-1.4,-0.7Z", "size": 400, "filled": true, "fill": "#fffdf6", "stroke": "#9a8a7a", "strokeWidth": 1, "opacity": 1}},
 {"mark": {"type": "text", "dy": -12, "font": "Liberation Sans", "fontSize": 11, "color": "#000"}, "encoding": {"text": {"field": "t"}}}
]},
{"data": {"name": "ann"}, "transform": [{"filter": "datum.pos === 'down'"}], "layer": [
 {"mark": {"type": "point", "shape": "M-1.4,1.75L1.4,1.75L1.4,0.7L0.4,0.7L0,0.25L-0.4,0.7L-1.4,0.7Z", "size": 400, "filled": true, "fill": "#fffdf6", "stroke": "#9a8a7a", "strokeWidth": 1, "opacity": 1}},
 {"mark": {"type": "text", "dy": 12, "font": "Liberation Sans", "fontSize": 11, "color": "#000"}, "encoding": {"text": {"field": "t"}}}
]}
]
},
{
"width": 835, "height": 123,
"view": {"stroke": "#9c8878", "strokeWidth": 1, "fill": {"gradient": "linear", "x1": 0, "y1": 0, "x2": 0, "y2": 1, "stops": [{"offset": 0, "color": "#ebdab4"}, {"offset": 1, "color": "#d2ad7c"}]}},
"data": {"name": "daily"},
"mark": {"type": "line", "strokeWidth": 1.8},
"encoding": {
"x": {"field": "d", "type": "temporal", "scale": {"type": "utc", "domain": [{"year": 2021, "month": 9, "date": 19, "utc": true}, {"year": 2024, "month": 8, "date": 23, "utc": true}]}, "axis": {"title": null, "tickCount": {"interval": "month", "step": 1}, "labelExpr": "utcmonth(datum.value)==0 ? utcFormat(datum.value,'%y') : slice(utcFormat(datum.value,'%b'),0,1)", "labelFontWeight": {"condition": {"test": "utcmonth(datum.value)==0", "value": "bold"}, "value": "normal"}, "labelFontSize": {"condition": {"test": "utcmonth(datum.value)==0", "value": 11}, "value": 10.5}, "labelFont": "Liberation Sans", "labelColor": "#000", "labelOverlap": false, "labelFlush": false, "labelBound": false, "ticks": false, "domain": false, "labelPadding": 1, "grid": true, "gridColor": "#b89a78", "gridOpacity": 0.5}},
"y": {"field": "p", "type": "quantitative", "scale": {"domain": [27800, 42100], "nice": false, "zero": false}, "axis": {"title": null, "orient": "right", "values": [30000, 32000, 34000, 36000, 38000, 40000], "format": "d", "grid": true, "gridColor": "#b89a78", "gridOpacity": 0.5, "tickSize": 3, "tickColor": "#8a7a6a", "labelPadding": 2, "labelFont": "Liberation Sans", "labelFontSize": 11, "labelColor": "#000", "domain": false}},
"color": {"datum": "$INDU 40563.06 (15 Aug)", "scale": {"range": ["#000000"]}, "legend": {"title": null, "orient": "top-left", "offset": 1, "padding": 0, "symbolType": "stroke", "symbolSize": 64, "symbolStrokeWidth": 2.5, "labelFont": "DejaVu Sans", "labelFontSize": 11, "labelOffset": 1, "labelLimit": 0}}
}
}
]
}
]
}
